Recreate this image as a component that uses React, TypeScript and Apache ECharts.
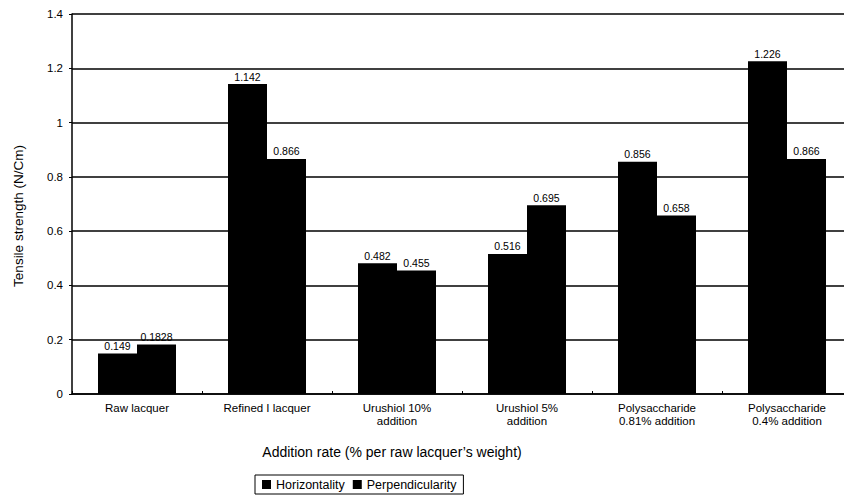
import React, { useEffect, useRef } from "react";
import * as echarts from "echarts";

const categories = [
  "Raw lacquer",
  "Refined I lacquer",
  "Urushiol 10%\naddition",
  "Urushiol 5%\naddition",
  "Polysaccharide\n0.81% addition",
  "Polysaccharide\n0.4% addition",
];
const horizontality = [0.149, 1.142, 0.482, 0.516, 0.856, 1.226];
const perpendicularity = [0.1828, 0.866, 0.455, 0.695, 0.658, 0.866];
const seriesNames = ["Horizontality", "Perpendicularity"];
const yTicks = [0, 0.2, 0.4, 0.6, 0.8, 1, 1.2, 1.4];

const FONT = "Liberation Sans, Arial, sans-serif";

export default function App() {
  const ref = useRef<HTMLDivElement>(null);
  useEffect(() => {
    if (!ref.current) return;
    const chart = echarts.init(ref.current, undefined, { renderer: "svg" });
    const labelStyle = {
      show: true,
      position: "top",
      distance: 2,
      color: "#000",
      fontSize: 10.5,
      fontFamily: FONT,
      formatter: (p: any) => String(p.value),
    };
    chart.setOption({
      animation: false,
      backgroundColor: "#fff",
      textStyle: { fontFamily: FONT, color: "#000" },
      grid: { left: 72, top: 14, right: 8, height: 380, containLabel: false },
      legend: {
        data: seriesNames,
        left: 255,
        top: 475,
        orient: "horizontal",
        borderColor: "#000",
        borderWidth: 1,
        padding: [3, 7, 3, 7],
        itemWidth: 9,
        itemHeight: 9,
        itemGap: 8,
        icon: "rect",
        textStyle: { fontSize: 12.5, color: "#000", fontFamily: FONT },
      },
      xAxis: {
        type: "category",
        data: categories,
        axisLine: { show: true, lineStyle: { color: "#000", width: 1.5 } },
        axisTick: { show: true, inside: true, length: 3, lineStyle: { color: "#000" } },
        axisLabel: {
          color: "#000",
          fontSize: 11.5,
          fontFamily: FONT,
          margin: 7,
          lineHeight: 13,
          interval: 0,
        },
      },
      yAxis: {
        type: "value",
        min: 0,
        max: 1.4,
        interval: 0.2,
        axisLine: { show: true, lineStyle: { color: "#000", width: 1.5 } },
        axisTick: { show: true, length: 3, lineStyle: { color: "#000" } },
        axisLabel: {
          color: "#000",
          fontSize: 11.5,
          fontFamily: FONT,
          margin: 9,
          formatter: (v: number) => {
            const t = yTicks.find((x) => Math.abs(x - v) < 1e-9);
            return t === undefined ? String(v) : String(t);
          },
        },
        splitLine: { show: true, lineStyle: { color: "#000", width: 1.5 } },
      },
      graphic: [
        {
          type: "text",
          x: 18,
          y: 216,
          rotation: Math.PI / 2,
          style: {
            text: "Tensile strength (N/Cm)",
            fontSize: 13.5,
            fontFamily: FONT,
            fill: "#000",
            textAlign: "center",
            textVerticalAlign: "middle",
          },
        },
        {
          type: "text",
          x: 392,
          y: 452,
          style: {
            text: "Addition rate (% per raw lacquer\u2019s weight)",
            fontSize: 14,
            fontFamily: FONT,
            fill: "#000",
            textAlign: "center",
            textVerticalAlign: "middle",
          },
        },
      ],
      series: [
        {
          name: seriesNames[0],
          type: "bar",
          data: horizontality,
          barWidth: 39,
          barGap: "0%",
          itemStyle: { color: "#000" },
          label: labelStyle,
        },
        {
          name: seriesNames[1],
          type: "bar",
          data: perpendicularity,
          barWidth: 39,
          itemStyle: { color: "#000" },
          label: labelStyle,
        },
      ],
    });
    return () => chart.dispose();
  }, []);
  return (
    <div
      style={{
        position: "fixed",
        left: 0,
        top: 0,
        width: 844,
        height: 499,
        overflow: "hidden",
      }}
    >
      <div ref={ref} style={{ width: 860, height: 499 }} />
    </div>
  );
}
